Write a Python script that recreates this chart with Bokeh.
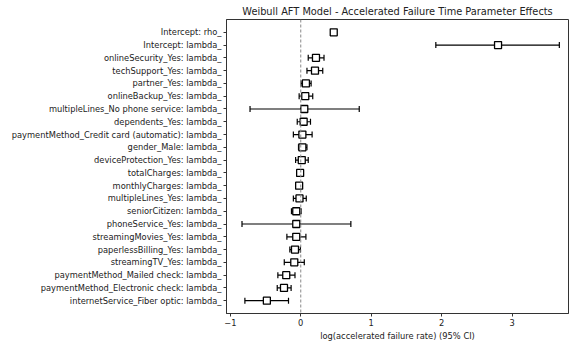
from bokeh.plotting import figure
from bokeh.models import ColumnDataSource, Whisker, TeeHead, Span, FixedTicker, Range1d
from bokeh.embed import file_html
from bokeh.resources import INLINE

labels = [
    "Intercept: rho_",
    "Intercept: lambda_",
    "onlineSecurity_Yes: lambda_",
    "techSupport_Yes: lambda_",
    "partner_Yes: lambda_",
    "onlineBackup_Yes: lambda_",
    "multipleLines_No phone service: lambda_",
    "dependents_Yes: lambda_",
    "paymentMethod_Credit card (automatic): lambda_",
    "gender_Male: lambda_",
    "deviceProtection_Yes: lambda_",
    "totalCharges: lambda_",
    "monthlyCharges: lambda_",
    "multipleLines_Yes: lambda_",
    "seniorCitizen: lambda_",
    "phoneService_Yes: lambda_",
    "streamingMovies_Yes: lambda_",
    "paperlessBilling_Yes: lambda_",
    "streamingTV_Yes: lambda_",
    "paymentMethod_Mailed check: lambda_",
    "paymentMethod_Electronic check: lambda_",
    "internetService_Fiber optic: lambda_",
]
coef = [0.468, 2.80, 0.216, 0.202, 0.073, 0.064, 0.050, 0.041, 0.023, 0.023, 0.014,
        -0.009, -0.023, -0.018, -0.064, -0.064, -0.064, -0.082, -0.092, -0.206, -0.238, -0.481]
lower = [0.450, 1.917, 0.106, 0.088, 0.005, -0.023, -0.720, -0.050, -0.105, -0.032, -0.073,
         -0.010, -0.024, -0.105, -0.132, -0.834, -0.197, -0.155, -0.234, -0.325, -0.334, -0.793]
upper = [0.486, 3.67, 0.330, 0.312, 0.147, 0.170, 0.830, 0.138, 0.161, 0.088, 0.106,
         -0.008, -0.022, 0.078, 0.005, 0.711, 0.073, -0.005, 0.050, -0.082, -0.137, -0.174]
x_ticks = [-1, 0, 1, 2, 3]
title_text = "Weibull AFT Model - Accelerated Failure Time Parameter Effects"
x_label = "log(accelerated failure rate) (95% CI)"

n = len(labels)
ypos = [n - 1 - i for i in range(n)]
src = ColumnDataSource(dict(y=ypos, coef=coef, lower=lower, upper=upper))

FONT = "DejaVu Sans"
p = figure(frame_width=342, frame_height=294, output_backend="svg", toolbar_location=None,
           x_range=Range1d(-1.054, 3.80), y_range=Range1d(-1.0, n),
           min_border_left=226, min_border_right=2, min_border_top=0, min_border_bottom=0,
           title=title_text)
p.title.text_font = FONT
p.title.text_font_size = "9.8px"
p.title.text_font_style = "normal"
p.title.align = "center"
p.title.text_color = "#222222"
p.title.standoff = 6
p.title.offset = 0

p.add_layout(Span(location=0, dimension="height", line_color="#888888",
                  line_dash="3 2", line_width=1))

w = Whisker(source=src, base="y", lower="lower", upper="upper", dimension="width",
            line_color="black", line_width=1.2,
            lower_head=TeeHead(size=6, line_color="black", line_width=1.2),
            upper_head=TeeHead(size=6, line_color="black", line_width=1.2))
p.add_layout(w)
p.scatter(x="coef", y="y", source=src, marker="square", size=7,
          fill_color="white", line_color="black", line_width=1.3)

p.xgrid.visible = False
p.ygrid.visible = False
p.outline_line_color = "#333333"
p.outline_line_width = 1

p.yaxis.ticker = FixedTicker(ticks=ypos)
p.yaxis.major_label_overrides = {y: lab for y, lab in zip(ypos, labels)}
p.xaxis.ticker = FixedTicker(ticks=x_ticks)
p.xaxis.major_label_overrides = {-1: "\u22121"}
p.xaxis.axis_label = x_label

for ax in (p.xaxis, p.yaxis):
    ax.major_label_text_font = FONT
    ax.major_label_text_font_size = "8.3px"
    ax.major_label_text_color = "#222222"
    ax.axis_label_text_font = FONT
    ax.axis_label_text_font_size = "8.3px"
    ax.axis_label_text_font_style = "normal"
    ax.axis_label_text_color = "#222222"
    ax.minor_tick_line_color = None
    ax.major_tick_in = 0
    ax.major_tick_out = 3
    ax.major_tick_line_color = "#333333"
    ax.axis_line_color = "#333333"
    ax.major_label_standoff = 2
p.xaxis.axis_label_standoff = 2

open("out.html", "w").write(file_html(p, INLINE))
